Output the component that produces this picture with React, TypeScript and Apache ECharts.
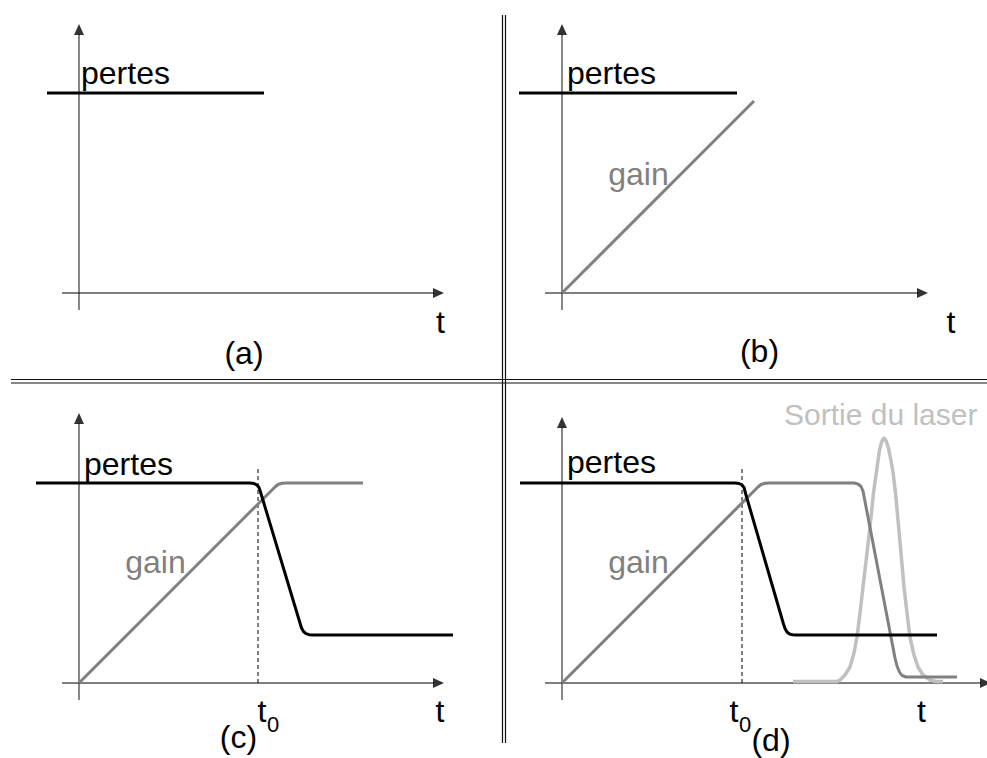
import React, { useEffect, useRef } from "react";
import * as echarts from "echarts";

const FONT = "'Liberation Sans', Arial, Helvetica, sans-serif";

// Axis extents per panel (a, b, c, d): tail below/left of origin, arrow tips
const axisTail = -17;
const xArrowTip = [365, 366, 365, 429];
const yArrowTip = [269, 269, 270, 266];

// (a)
const pertesA = [[-32, 200], [185, 200]];

// (b)
const pertesB = [[-43, 200], [175, 200]];
const gainB = [[0, 0], [192, 192]];

// (c)
const pertesC = [
  [-43, 200], [171, 200], [175, 199.5], [178, 198], [180, 195.5], [181.5, 191],
  [221, 60], [222.5, 55], [224.5, 51.5], [227, 49.3], [230, 48.3], [234, 48], [374, 48],
];
const gainC = [
  [0, 0], [193, 193], [196, 196], [199, 198.5], [203, 199.7], [207, 200], [284, 200],
];
const t0C = [[179, 0], [179, 215]];

// (d)
const pertesD = [
  [-42, 200], [173, 200], [177, 199.5], [180, 198], [182, 195.5], [184, 188],
  [221.5, 59], [223, 54.5], [225, 51], [227.5, 49], [230.5, 48.2], [234, 48], [375, 48],
];
const gainD = [
  [0, 0], [193, 193], [196, 196], [199, 198.5], [203, 199.7], [208, 200], [292, 200],
  [296, 199], [299, 196.5], [301, 192], [333, 25], [335, 17], [337.5, 11], [340, 7.5],
  [344, 6], [395, 6],
];
const pulseD = [
  [231, 1.5], [275, 1.5], [278, 3], [283, 8], [288, 16], [292, 30], [295, 46], [298, 70],
  [301, 96], [305, 130], [308.7, 163], [311.5, 190], [314.7, 213], [317.5, 233], [320, 242],
  [322, 245], [324, 242.5], [326.5, 235], [329, 222], [331, 211], [333.5, 190], [336, 163],
  [339, 130], [342, 96], [345, 70], [348, 46], [352, 28], [356, 16], [361, 8], [368, 3],
  [374, 1.5], [381, 1.5],
];
const t0D = [[180, 0], [180, 215]];

// Texts
const lossLabel = "pertes";
const gainLabel = "gain";
const timeLabel = "t";
const t0Main = "t";
const t0Sub = "0";
const outputLabel = "Sortie du laser";
const panelLabels = ["(a)", "(b)", "(c)", "(d)"];

const BLACK = "#000000";
const GREY = "#808080";
const LIGHT = "#c0c0c0";

export default function App() {
  const ref = useRef<HTMLDivElement>(null);

  useEffect(() => {
    if (!ref.current) return;
    const chart = echarts.init(ref.current, null, { renderer: "svg" });

    // panel origins in pixels; 1 data unit = 1 pixel
    const origins = [[79, 293], [562, 293], [79, 683], [562, 683]];
    const xMin = -50, xMax = 425, yMin = -30, yMax = 280;
    const grids = origins.map(([ox, oy]) => ({
      left: ox + xMin,
      top: oy - yMax,
      width: xMax - xMin,
      height: yMax - yMin,
      containLabel: false,
    }));

    const hiddenAxis = (i: number, min: number, max: number) => ({
      type: "value",
      gridIndex: i,
      min,
      max,
      show: false,
      axisLine: { show: false },
      axisTick: { show: false },
      axisLabel: { show: false },
      splitLine: { show: false },
    });
    const xAxis = origins.map((_, i) => hiddenAxis(i, xMin, xMax));
    const yAxis = origins.map((_, i) => hiddenAxis(i, yMin, yMax));

    const line = (idx: number, data: number[][], color: string, width: number, z: number, dashed = false) => ({
      type: "line",
      xAxisIndex: idx,
      yAxisIndex: idx,
      data,
      symbol: "none",
      showSymbol: false,
      clip: false,
      silent: true,
      z,
      lineStyle: { color, width, type: dashed ? [4, 3] : "solid", cap: "butt", join: "round" },
    });

    const arrow = (idx: number, data: number[][], rotate: number) => ({
      type: "scatter",
      xAxisIndex: idx,
      yAxisIndex: idx,
      data,
      symbol: "triangle",
      symbolSize: [10, 11],
      symbolRotate: rotate,
      silent: true,
      clip: false,
      z: 2,
      itemStyle: { color: "#000" },
    });

    const axesSeries: any[] = [];
    origins.forEach((_, i) => {
      axesSeries.push(line(i, [[axisTail, 0], [xArrowTip[i] - 10, 0]], "#555", 1.5, 1));
      axesSeries.push(line(i, [[0, axisTail], [0, yArrowTip[i] - 10]], "#111", 1, 1));
      axesSeries.push(arrow(i, [[xArrowTip[i] - 5.5, 0]], -90));
      axesSeries.push(arrow(i, [[0, yArrowTip[i] - 5.5]], 0));
    });

    const series = [
      ...axesSeries,
      line(0, pertesA, BLACK, 3, 5),
      line(1, gainB, GREY, 3, 4),
      line(1, pertesB, BLACK, 3, 5),
      line(2, t0C, BLACK, 1, 3, true),
      line(2, gainC, GREY, 3, 4),
      line(2, pertesC, BLACK, 3, 5),
      line(3, t0D, BLACK, 1, 3, true),
      line(3, pulseD, LIGHT, 3.5, 3),
      line(3, gainD, GREY, 3, 4),
      line(3, pertesD, BLACK, 3, 5),
    ];

    const fs = 32;
    const txt = (text: string, x: number, baseline: number, color: string, align: string, size = fs) => ({
      type: "text",
      x,
      y: baseline - 0.35 * size,
      z: 10,
      silent: true,
      style: {
        text,
        fill: color,
        font: `${size}px ${FONT}`,
        align,
        verticalAlign: "middle",
      },
    });

    const sep = (x1: number, y1: number, x2: number, y2: number) => ({
      type: "line",
      silent: true,
      shape: { x1, y1, x2, y2 },
      style: { stroke: "#111", lineWidth: 1.2 },
    });

    const graphic = [
      sep(11, 379.5, 987, 379.5),
      sep(11, 383, 987, 383),
      sep(502.5, 15, 502.5, 743),
      sep(505.5, 15, 505.5, 743),
      // (a)
      txt(lossLabel, 81, 84, BLACK, "left"),
      txt(timeLabel, 440.5, 333, BLACK, "center"),
      txt(panelLabels[0], 244, 364, BLACK, "center"),
      // (b)
      txt(lossLabel, 567, 84, BLACK, "left"),
      txt(gainLabel, 638.5, 185, GREY, "center"),
      txt(timeLabel, 951, 333, BLACK, "center"),
      txt(panelLabels[1], 759.5, 362, BLACK, "center"),
      // (c)
      txt(lossLabel, 84, 475, BLACK, "left"),
      txt(gainLabel, 155.5, 573, GREY, "center"),
      txt(t0Main, 262, 722, BLACK, "center"),
      txt(t0Sub, 273, 732, BLACK, "center", 22),
      txt(timeLabel, 440, 722, BLACK, "center"),
      txt(panelLabels[2], 238.5, 748, BLACK, "center"),
      // (d)
      txt(lossLabel, 567, 473, BLACK, "left"),
      txt(gainLabel, 638.5, 573, GREY, "center"),
      txt(t0Main, 734, 722, BLACK, "center"),
      txt(t0Sub, 745, 732, BLACK, "center", 22),
      txt(timeLabel, 921.5, 722, BLACK, "center"),
      txt(panelLabels[3], 771, 751, BLACK, "center"),
      txt(outputLabel, 784, 425, LIGHT, "left", 30),
    ];

    chart.setOption({
      animation: false,
      backgroundColor: "#ffffff",
      grid: grids,
      xAxis,
      yAxis,
      series,
      graphic,
    });

    return () => chart.dispose();
  }, []);

  return (
    <div
      ref={ref}
      style={{ position: "fixed", left: 0, top: 0, width: 987, height: 758, background: "#fff" }}
    />
  );
}
